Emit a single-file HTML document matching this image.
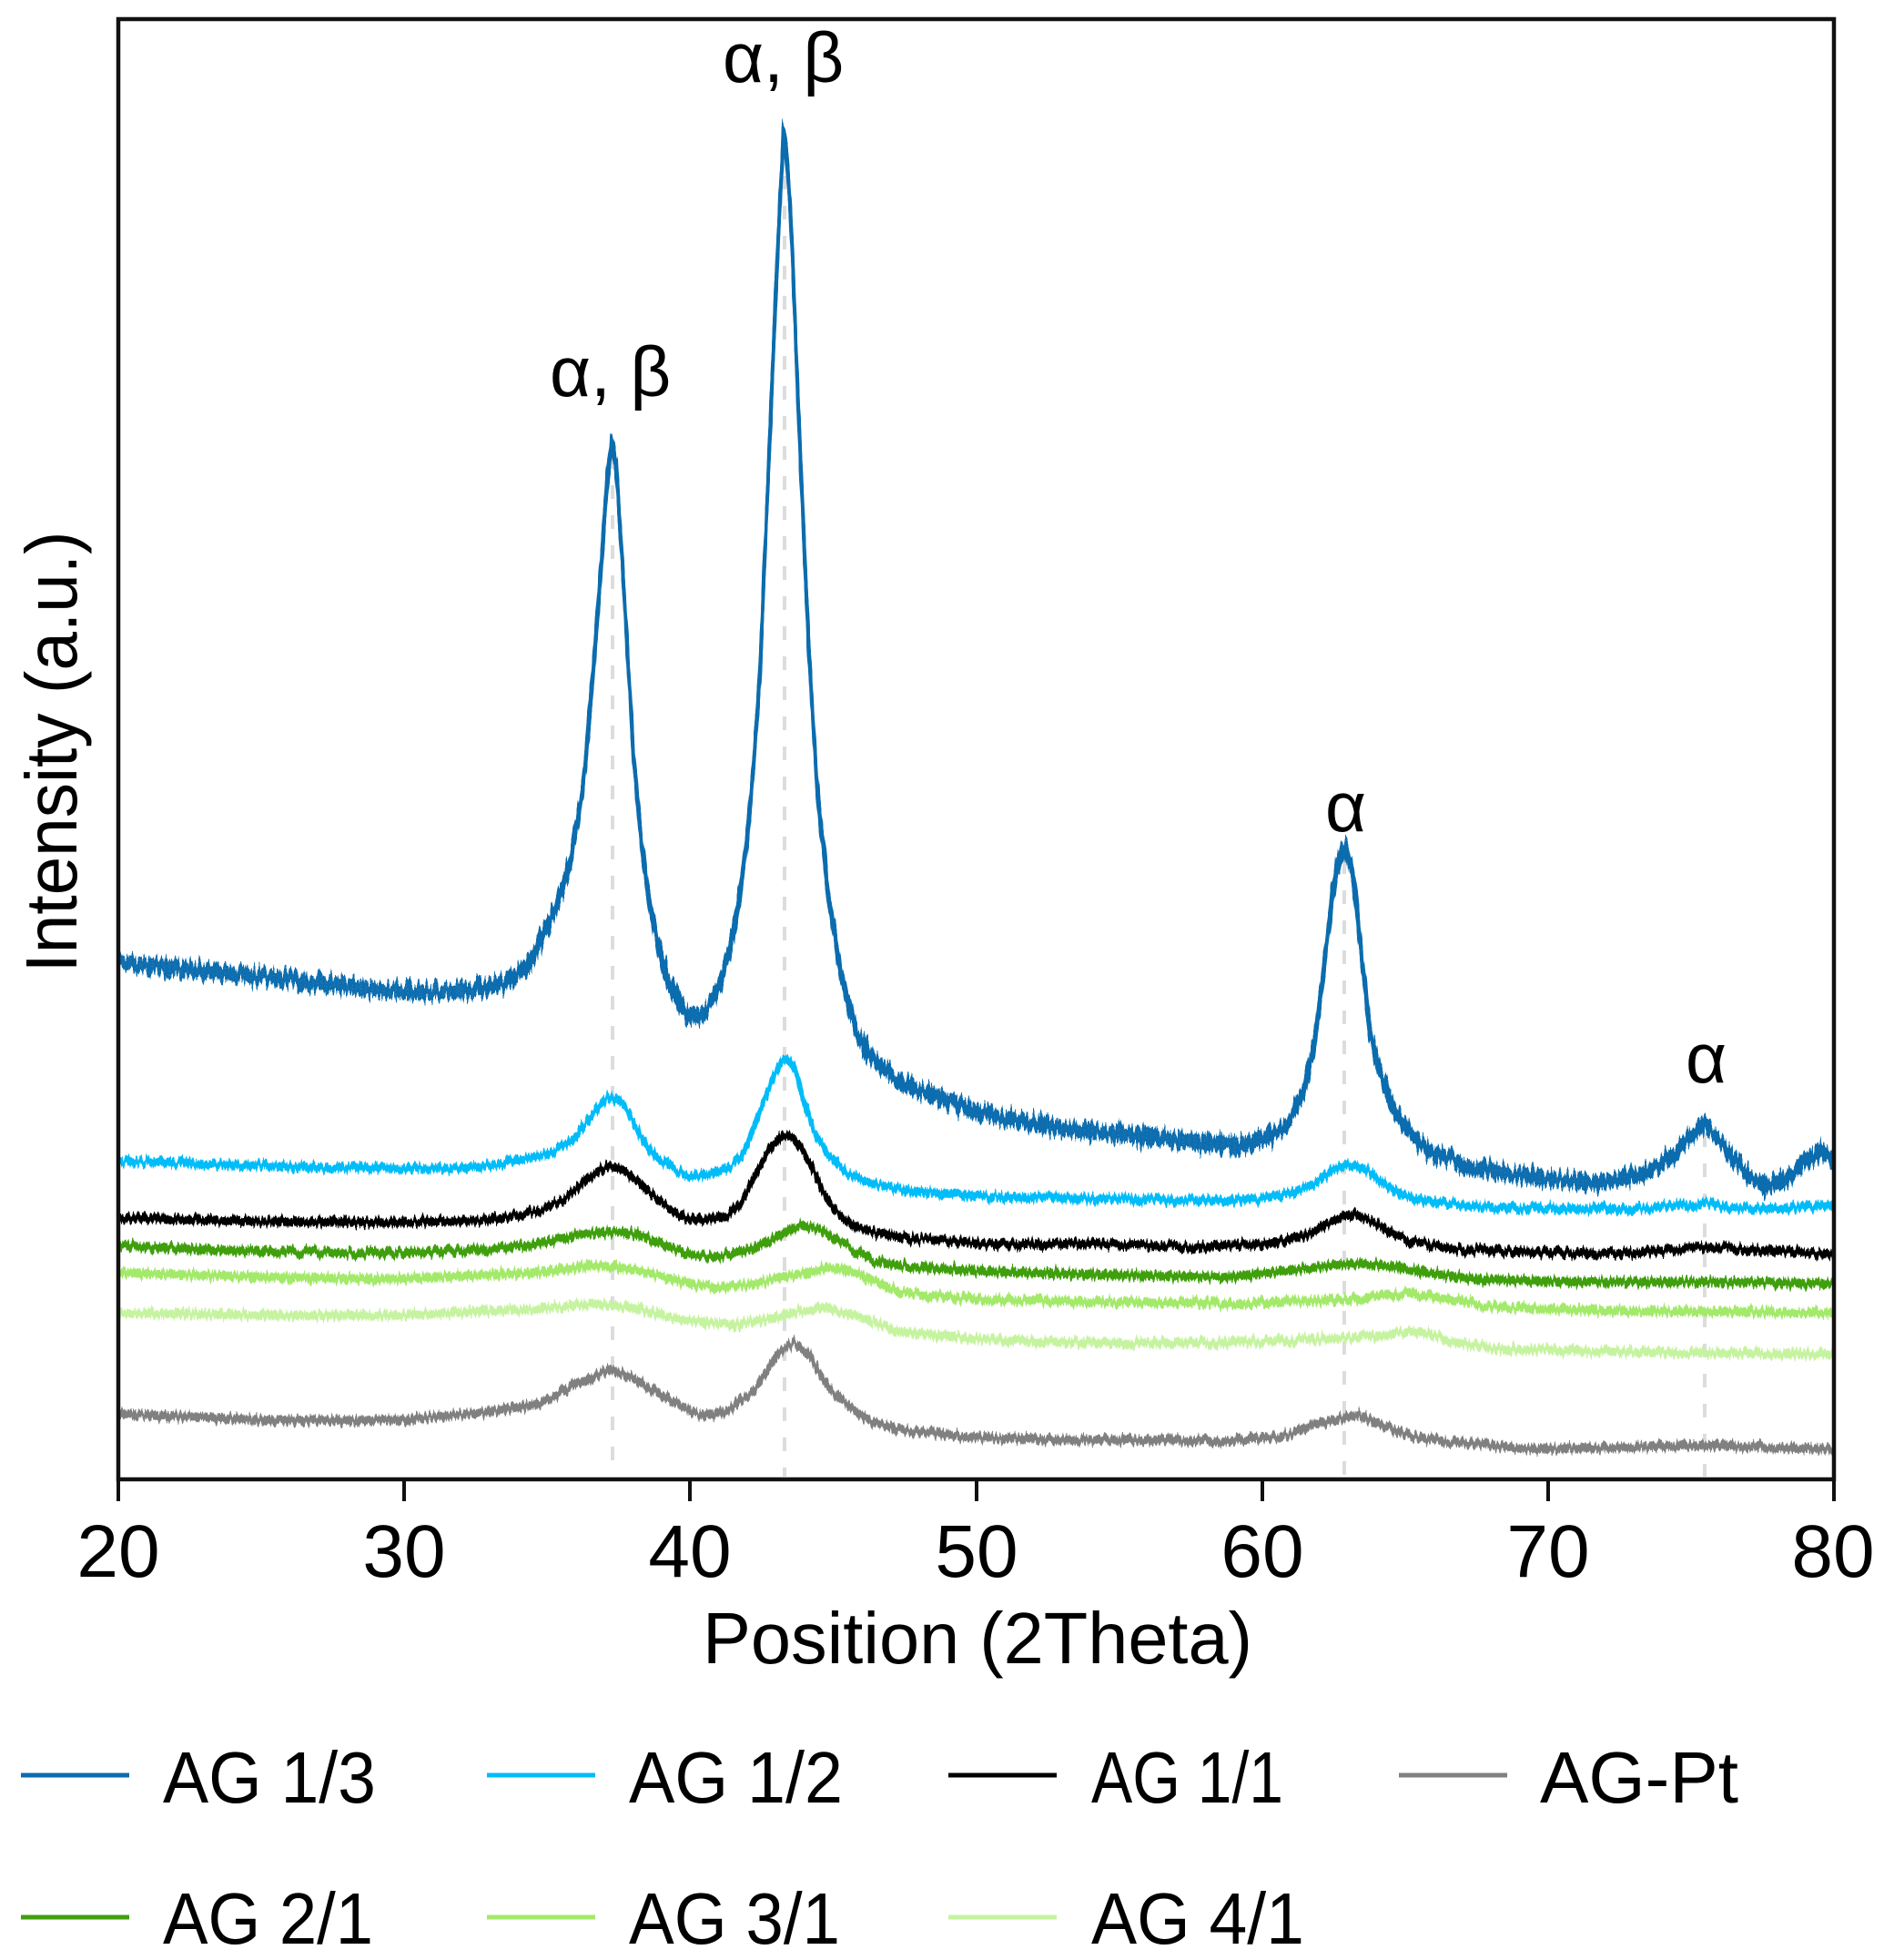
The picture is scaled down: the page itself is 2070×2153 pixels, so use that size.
<!DOCTYPE html>
<html>
<head>
<meta charset="utf-8">
<style>
  html, body { margin: 0; padding: 0; background: #ffffff; }
  svg { display: block; }
  text { font-family: "Liberation Sans", "DejaVu Sans", sans-serif; fill: #000; }
</style>
</head>
<body>
<svg width="2070" height="2153" viewBox="0 0 2070 2153" xmlns="http://www.w3.org/2000/svg">
  <defs>
    <clipPath id="plot">
      <rect x="132" y="23" width="1881" height="1600"/>
    </clipPath>
    <filter id="nzA" filterUnits="userSpaceOnUse" x="0" y="0" width="2070" height="1700" color-interpolation-filters="sRGB">
      <feTurbulence type="fractalNoise" baseFrequency="0.38 0.02" numOctaves="2" seed="3" result="t"/>
      <feColorMatrix in="t" type="matrix" values="0 0 0 0 0.5  0 1 0 0 0  0 0 0 0 0.5  0 0 0 0 1" result="m"/>
      <feDisplacementMap in="SourceGraphic" in2="m" scale="28" xChannelSelector="R" yChannelSelector="G"/>
    </filter>
    <filter id="nzB" filterUnits="userSpaceOnUse" x="0" y="0" width="2070" height="1700" color-interpolation-filters="sRGB">
      <feTurbulence type="fractalNoise" baseFrequency="0.42 0.02" numOctaves="2" seed="7" result="t"/>
      <feColorMatrix in="t" type="matrix" values="0 0 0 0 0.5  0 1 0 0 0  0 0 0 0 0.5  0 0 0 0 1" result="m"/>
      <feDisplacementMap in="SourceGraphic" in2="m" scale="15" xChannelSelector="R" yChannelSelector="G"/>
    </filter>

    <polyline id="s13" fill="none" stroke-linejoin="round" stroke-linecap="round" points="130,1058 180,1062 230,1066 264,1070 330,1078 396,1085 460,1090 520,1088 550,1082 570,1070 585,1052 600,1022 615,985 627,945 640,870 650,760 660,630 667,530 672,486 677,512 682,590 688,690 696,830 705,930 715,1000 726,1050 740,1090 757,1118 775,1112 792,1078 805,1030 815,970 825,880 835,740 845,500 852,330 857,220 861,145 865,178 870,262 878,470 888,700 898,870 911,990 924,1070 941,1135 962,1168 990,1190 1030,1205 1090,1225 1150,1237 1200,1243 1247,1247 1300,1253 1363,1258 1395,1248 1413,1235 1425,1215 1435,1190 1445,1140 1455,1060 1463,990 1470,948 1477,932 1484,948 1490,990 1497,1060 1505,1130 1515,1175 1530,1215 1550,1245 1570,1265 1620,1283 1687,1293 1753,1300 1803,1290 1837,1272 1855,1250 1873,1235 1893,1258 1920,1290 1940,1303 1963,1295 1987,1272 2000,1262 2013,1275"/>
    <polyline id="s12" fill="none" stroke-linejoin="round" points="130,1275 250,1280 400,1283 500,1283 540,1280 570,1275 600,1268 630,1252 650,1225 667,1205 680,1208 690,1222 705,1250 720,1270 740,1285 757,1292 780,1290 800,1283 815,1272 830,1235 845,1195 857,1167 865,1162 872,1172 882,1205 895,1245 910,1268 930,1288 957,1300 1000,1308 1090,1315 1200,1316 1300,1318 1380,1318 1420,1310 1445,1300 1465,1285 1483,1279 1500,1285 1520,1300 1545,1315 1580,1322 1653,1327 1787,1328 1873,1322 1920,1328 2013,1325"/>
    <polyline id="s11" fill="none" stroke-linejoin="round" points="130,1338 300,1342 430,1343 540,1340 590,1330 620,1318 645,1295 667,1281 680,1283 700,1297 720,1315 740,1330 757,1340 780,1340 800,1335 815,1320 830,1290 845,1262 860,1247 870,1249 880,1260 893,1285 905,1310 917,1330 935,1345 957,1353 1000,1360 1090,1367 1200,1366 1313,1370 1400,1365 1440,1355 1465,1340 1487,1334 1505,1340 1530,1355 1555,1365 1600,1372 1653,1375 1787,1377 1873,1370 2013,1377"/>
    <polyline id="s21" fill="none" stroke-linejoin="round" points="130,1368 300,1375 430,1377 540,1372 590,1367 630,1357 667,1353 700,1355 730,1368 757,1378 790,1380 830,1370 860,1355 880,1346 900,1350 930,1368 957,1385 1000,1392 1090,1397 1200,1400 1350,1403 1420,1395 1480,1388 1520,1390 1560,1397 1620,1405 1720,1408 1873,1408 2013,1410"/>
    <polyline id="s31" fill="none" stroke-linejoin="round" points="130,1398 300,1403 430,1405 590,1398 657,1390 700,1395 750,1408 790,1415 830,1410 862,1402 890,1398 910,1392 940,1398 990,1420 1090,1428 1200,1430 1350,1432 1480,1428 1547,1420 1580,1425 1637,1435 1753,1440 2013,1442"/>
    <polyline id="s41" fill="none" stroke-linejoin="round" points="130,1442 300,1445 430,1445 590,1438 657,1432 700,1438 750,1450 807,1455 850,1448 880,1440 907,1437 940,1445 990,1463 1090,1472 1200,1475 1350,1475 1480,1470 1530,1465 1563,1463 1600,1475 1653,1482 1787,1485 2013,1488"/>
    <polyline id="spt" fill="none" stroke-linejoin="round" points="130,1553 300,1560 430,1560 520,1553 590,1543 630,1522 670,1504 700,1515 730,1535 770,1555 800,1550 830,1525 855,1487 873,1475 890,1490 910,1525 940,1550 957,1562 1000,1572 1090,1580 1200,1582 1347,1583 1413,1577 1450,1563 1493,1554 1530,1570 1560,1580 1587,1583 1687,1592 1873,1588 2013,1592"/>
  </defs>

  <rect x="0" y="0" width="2070" height="2153" fill="#ffffff"/>

  <!-- dashed reference lines -->
  <g stroke="#dcdcdc" stroke-width="4" stroke-dasharray="15 18" fill="none">
    <line x1="673" y1="500" x2="673" y2="1622"/>
    <line x1="862" y1="160" x2="862" y2="1622"/>
    <line x1="1477" y1="945" x2="1477" y2="1622"/>
    <line x1="1873" y1="1245" x2="1873" y2="1622"/>
  </g>

  <g clip-path="url(#plot)">
    <g filter="url(#nzB)" stroke="#808080" stroke-width="3.5">
      <use href="#spt" transform="translate(0,-3)"/>
      <use href="#spt"/>
      <use href="#spt" transform="translate(0,3)"/>
    </g>
    <g filter="url(#nzB)" stroke="#c6f3a0" stroke-width="3.5">
      <use href="#s41" transform="translate(0,-3)"/>
      <use href="#s41"/>
      <use href="#s41" transform="translate(0,3)"/>
    </g>
    <g filter="url(#nzB)" stroke="#a3e96a" stroke-width="3.5">
      <use href="#s31" transform="translate(0,-3)"/>
      <use href="#s31"/>
      <use href="#s31" transform="translate(0,3)"/>
    </g>
    <g filter="url(#nzB)" stroke="#3f9f0d" stroke-width="3.5">
      <use href="#s21" transform="translate(0,-3)"/>
      <use href="#s21"/>
      <use href="#s21" transform="translate(0,3)"/>
    </g>
    <g filter="url(#nzB)" stroke="#000000" stroke-width="3.5">
      <use href="#s11" transform="translate(0,-3)"/>
      <use href="#s11"/>
      <use href="#s11" transform="translate(0,3)"/>
    </g>
    <g filter="url(#nzB)" stroke="#00bcf8" stroke-width="3.5">
      <use href="#s12" transform="translate(0,-3)"/>
      <use href="#s12"/>
      <use href="#s12" transform="translate(0,3)"/>
    </g>
    <g filter="url(#nzA)" stroke="#0b6cae" stroke-width="3.5">
      <use href="#s13" transform="translate(0,-7)"/>
      <use href="#s13" transform="translate(0,-3.5)"/>
      <use href="#s13"/>
      <use href="#s13" transform="translate(0,3.5)"/>
      <use href="#s13" transform="translate(0,7)"/>
    </g>
  </g>

  <!-- axes frame -->
  <rect x="130" y="21" width="1885" height="1604" fill="none" stroke="#111" stroke-width="4.5"/>
  <g stroke="#111" stroke-width="4">
    <line x1="130" y1="1625" x2="130" y2="1649"/>
    <line x1="444" y1="1625" x2="444" y2="1649"/>
    <line x1="758" y1="1625" x2="758" y2="1649"/>
    <line x1="1073" y1="1625" x2="1073" y2="1649"/>
    <line x1="1387" y1="1625" x2="1387" y2="1649"/>
    <line x1="1701" y1="1625" x2="1701" y2="1649"/>
    <line x1="2015" y1="1625" x2="2015" y2="1649"/>
  </g>
  <g font-size="82" text-anchor="middle">
    <text x="130" y="1732">20</text>
    <text x="444" y="1732">30</text>
    <text x="758" y="1732">40</text>
    <text x="1073" y="1732">50</text>
    <text x="1387" y="1732">60</text>
    <text x="1701" y="1732">70</text>
    <text x="2014" y="1732">80</text>
  </g>

  <text x="1074" y="1827" font-size="80" text-anchor="middle" textLength="604" lengthAdjust="spacingAndGlyphs">Position (2Theta)</text>
  <text transform="translate(84,826) rotate(-90)" font-size="80" text-anchor="middle" textLength="485" lengthAdjust="spacingAndGlyphs">Intensity (a.u.)</text>

  <g font-size="78">
    <text x="604" y="435">α, β</text>
    <text x="794" y="90">α, β</text>
    <text x="1456" y="913">α</text>
    <text x="1852" y="1189">α</text>
  </g>

  <g stroke-width="5">
    <line x1="23" y1="1950" x2="142" y2="1950" stroke="#0b6cae"/>
    <line x1="535" y1="1950" x2="654" y2="1950" stroke="#00bcf8"/>
    <line x1="1042" y1="1950" x2="1161" y2="1950" stroke="#000000"/>
    <line x1="1537" y1="1950" x2="1656" y2="1950" stroke="#808080"/>
    <line x1="23" y1="2106" x2="142" y2="2106" stroke="#3f9f0d"/>
    <line x1="535" y1="2106" x2="654" y2="2106" stroke="#a3e96a"/>
    <line x1="1042" y1="2106" x2="1161" y2="2106" stroke="#c6f3a0"/>
  </g>
  <g font-size="80">
    <text x="179" y="1980" textLength="234" lengthAdjust="spacingAndGlyphs">AG 1/3</text>
    <text x="691" y="1980" textLength="235" lengthAdjust="spacingAndGlyphs">AG 1/2</text>
    <text x="1199" y="1980" textLength="211" lengthAdjust="spacingAndGlyphs">AG 1/1</text>
    <text x="1692" y="1980" textLength="218" lengthAdjust="spacingAndGlyphs">AG-Pt</text>
    <text x="179" y="2135" textLength="231" lengthAdjust="spacingAndGlyphs">AG 2/1</text>
    <text x="691" y="2135" textLength="232" lengthAdjust="spacingAndGlyphs">AG 3/1</text>
    <text x="1199" y="2135" textLength="234" lengthAdjust="spacingAndGlyphs">AG 4/1</text>
  </g>
</svg>
</body>
</html>
